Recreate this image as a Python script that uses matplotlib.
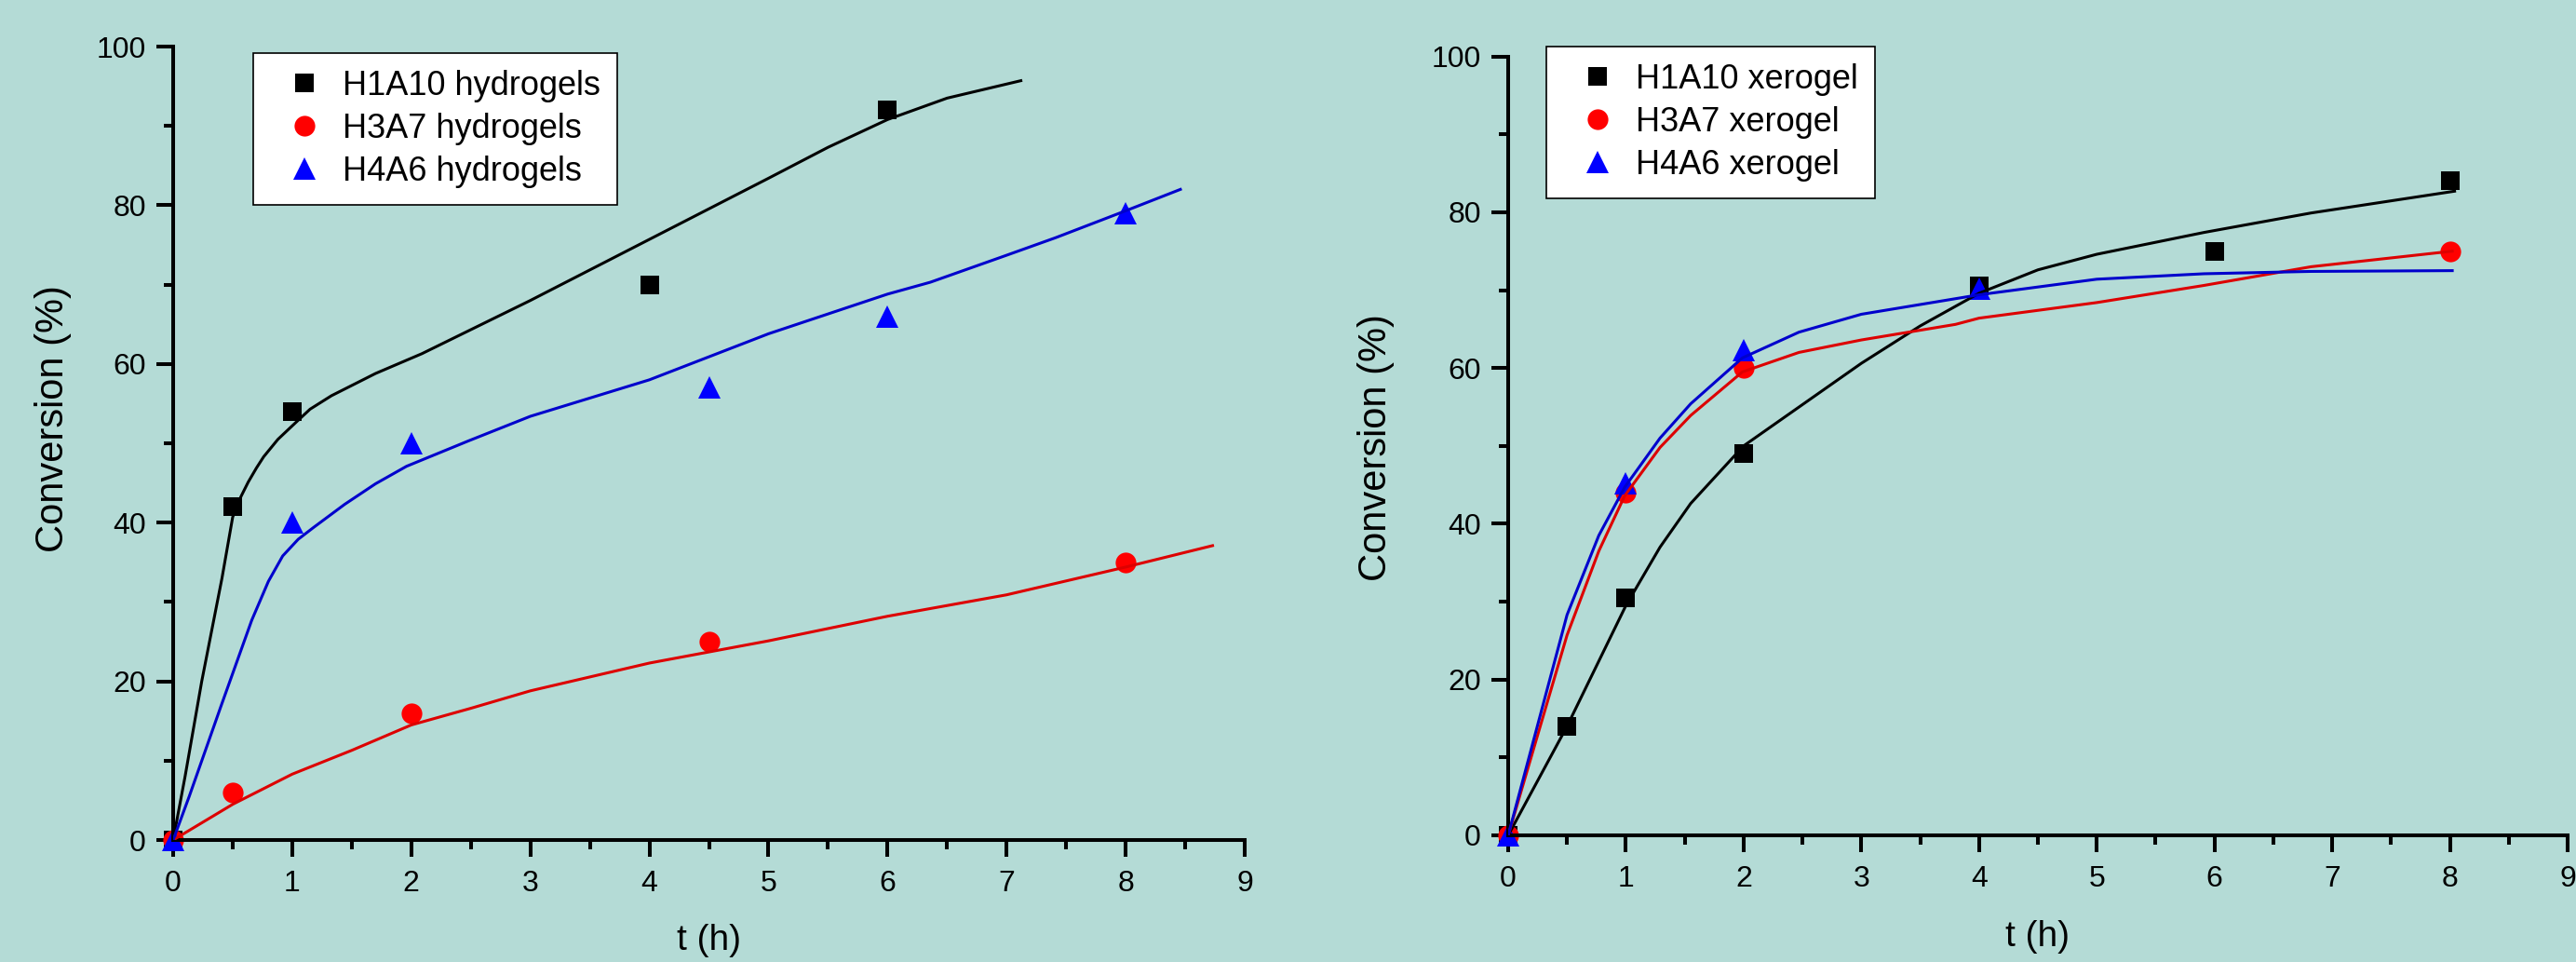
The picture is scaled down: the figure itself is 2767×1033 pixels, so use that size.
import matplotlib
matplotlib.use("Agg")
import matplotlib.pyplot as plt
from matplotlib.ticker import MultipleLocator

plt.rcParams["font.family"] = ["Liberation Sans", "DejaVu Sans"]

BG = "#b4dbd6"

# ---- hydrogels (left panel): measured points ----
hyd_t_h1a10 = [0, 0.5, 1, 4, 6]
hyd_c_h1a10 = [0, 42, 54, 70, 92]
hyd_t_h3a7 = [0, 0.5, 2, 4.5, 8]
hyd_c_h3a7 = [0, 6, 16, 25, 35]
hyd_t_h4a6 = [0, 1, 2, 4.5, 6, 8]
hyd_c_h4a6 = [0, 40, 50, 57, 66, 79]

# hydrogels: fitted curves
hyd_fit_t_h1a10 = [0, 0.1, 0.24, 0.41, 0.5, 0.57, 0.63, 0.7, 0.76, 0.88, 1.0,
                   1.15, 1.33, 1.7, 2.09, 3, 4, 5, 5.5, 6, 6.5, 7.12]
hyd_fit_c_h1a10 = [0, 8, 20.0, 33.0, 40.7, 43.3, 45.1, 46.9, 48.3, 50.5, 52.2,
                   54.3, 56.0, 58.8, 61.3, 68.0, 75.7, 83.4, 87.3, 90.8, 93.5, 95.7]
hyd_fit_t_h3a7 = [0, 0.5, 1, 1.5, 2, 2.5, 3, 4, 5, 6, 7, 8, 8.73]
hyd_fit_c_h3a7 = [0, 4.5, 8.3, 11.3, 14.5, 16.6, 18.8, 22.3, 25.1, 28.2, 30.9,
                  34.4, 37.1]
hyd_fit_t_h4a6 = [0, 0.135, 0.40, 0.66, 0.8, 0.92, 1.05, 1.18, 1.44, 1.7, 1.96,
                  2.48, 3.0, 4, 5, 6, 6.36, 7, 7.41, 8, 8.46]
hyd_fit_c_h4a6 = [0, 5.5, 16.8, 27.7, 32.6, 35.8, 37.9, 39.4, 42.3, 44.9, 47.1,
                  50.3, 53.4, 58.0, 63.8, 68.8, 70.3, 73.7, 75.9, 79.3, 82.0]

# ---- xerogels (right panel): measured points ----
xer_t_h1a10 = [0, 0.5, 1, 2, 4, 6, 8]
xer_c_h1a10 = [0, 14, 30.5, 49, 70.5, 75, 84]
xer_t_h3a7 = [0, 1, 2, 8]
xer_c_h3a7 = [0, 44, 60, 75]
xer_t_h4a6 = [0, 1, 2, 4]
xer_c_h4a6 = [0, 45.2, 62.3, 70.2]

# xerogels: fitted curves
xer_fit_t_h1a10 = [0, 0.5, 1, 1.29, 1.55, 2, 2.5, 3, 3.5, 4, 4.5, 5, 5.91,
                   6.82, 8.04]
xer_fit_c_h1a10 = [0, 14.0, 29.5, 37.0, 42.6, 50.0, 55.3, 60.6, 65.4, 69.6,
                   72.6, 74.6, 77.4, 79.9, 82.7]
xer_fit_t_h3a7 = [0, 0.5, 0.77, 0.99, 1.29, 1.55, 1.99, 2.47, 3.0, 3.8, 4.0,
                  5.0, 5.91, 6.82, 8.02]
xer_fit_c_h3a7 = [0, 25.7, 36.5, 43.6, 49.8, 53.9, 59.5, 62.0, 63.6, 65.6,
                  66.4, 68.4, 70.6, 73.0, 75.0]
xer_fit_t_h4a6 = [0, 0.5, 0.77, 0.99, 1.29, 1.55, 1.99, 2.47, 3.0, 3.8, 4.0,
                  5.0, 5.91, 6.82, 8.02]
xer_fit_c_h4a6 = [0, 28.3, 38.5, 44.7, 51.0, 55.4, 61.3, 64.6, 66.9, 68.9,
                  69.4, 71.4, 72.1, 72.4, 72.5]

x_ticks = list(range(0, 10))
y_ticks = [0, 20, 40, 60, 80, 100]


def style_axes(ax):
    ax.set_facecolor(BG)
    for s in ("top", "right"):
        ax.spines[s].set_visible(False)
    for s in ("left", "bottom"):
        ax.spines[s].set_linewidth(2.9)
    ax.set_xlim(0, 9)
    ax.set_ylim(0, 100)
    ax.set_xticks(x_ticks)
    ax.set_yticks(y_ticks)
    ax.xaxis.set_minor_locator(MultipleLocator(0.5))
    ax.yaxis.set_minor_locator(MultipleLocator(10))
    ax.tick_params(which="major", direction="out", length=13, width=2.9,
                   labelsize=23, top=False, right=False)
    ax.tick_params(which="minor", direction="out", length=7.5, width=2.9,
                   top=False, right=False)
    ax.tick_params(axis="x", which="major", pad=10)
    ax.tick_params(axis="y", which="major", pad=8)


def draw_panel(ax, pts, fits, labels):
    colors_pt = ["black", "#ff0000", "#0000ff"]
    colors_ln = ["black", "#dd0000", "#0000cc"]
    markers = [("s", 14), ("o", 16), ("^", 17)]
    for (ft, fc), col in zip(fits, colors_ln):
        ax.plot(ft, fc, color=col, linewidth=2.2, zorder=3)
    for (t, c), col, (m, ms), lab in zip(pts, colors_pt, markers, labels):
        ax.plot(t, c, linestyle="none", marker=m, markersize=ms, color=col,
                markeredgewidth=0, label=lab, clip_on=False, zorder=2)


fig = plt.figure(figsize=(27.67, 10.33), dpi=100)
fig.patch.set_facecolor(BG)

ax1 = fig.add_axes([186 / 2767, 1 - 902 / 1033, 1151 / 2767, 852 / 1033])
ax2 = fig.add_axes([1620 / 2767, 1 - 897 / 1033, 1138 / 2767, 836.4 / 1033])

for ax in (ax1, ax2):
    style_axes(ax)

draw_panel(ax1,
           [(hyd_t_h1a10, hyd_c_h1a10), (hyd_t_h3a7, hyd_c_h3a7), (hyd_t_h4a6, hyd_c_h4a6)],
           [(hyd_fit_t_h1a10, hyd_fit_c_h1a10), (hyd_fit_t_h3a7, hyd_fit_c_h3a7),
            (hyd_fit_t_h4a6, hyd_fit_c_h4a6)],
           ["H1A10 hydrogels", "H3A7 hydrogels", "H4A6 hydrogels"])
draw_panel(ax2,
           [(xer_t_h1a10, xer_c_h1a10), (xer_t_h3a7, xer_c_h3a7), (xer_t_h4a6, xer_c_h4a6)],
           [(xer_fit_t_h1a10, xer_fit_c_h1a10), (xer_fit_t_h3a7, xer_fit_c_h3a7),
            (xer_fit_t_h4a6, xer_fit_c_h4a6)],
           ["H1A10 xerogel", "H3A7 xerogel", "H4A6 xerogel"])

# axis labels, placed in figure pixels
for ax, (xl_x, xl_y), (yl_x, yl_y) in (
    (ax1, (761, 992), (57, 450)),
    (ax2, (2189, 988), (1478, 481)),
):
    ax.set_xlabel("t (h)", fontsize=28, va="top")
    ax.xaxis.set_label_coords(xl_x / 2767, 1 - xl_y / 1033, transform=fig.transFigure)
    ax.set_ylabel("Conversion (%)", fontsize=30, va="center")
    ax.yaxis.set_label_coords(yl_x / 2767, 1 - yl_y / 1033, transform=fig.transFigure)

# legends
for ax, (lx, ly) in ((ax1, (272, 57)), (ax2, (1661, 50))):
    leg = ax.legend(loc="upper left", bbox_to_anchor=(lx / 2767, 1 - ly / 1033),
                    bbox_transform=fig.transFigure, fontsize=26, frameon=True,
                    fancybox=False, edgecolor="black", facecolor="white",
                    framealpha=1, borderpad=0.5, labelspacing=0.3,
                    handlelength=2.05, handletextpad=0.1, borderaxespad=0,
                    numpoints=1)
    leg.get_frame().set_linewidth(1.2)

fig.savefig("out.png", dpi=100, facecolor=BG)
